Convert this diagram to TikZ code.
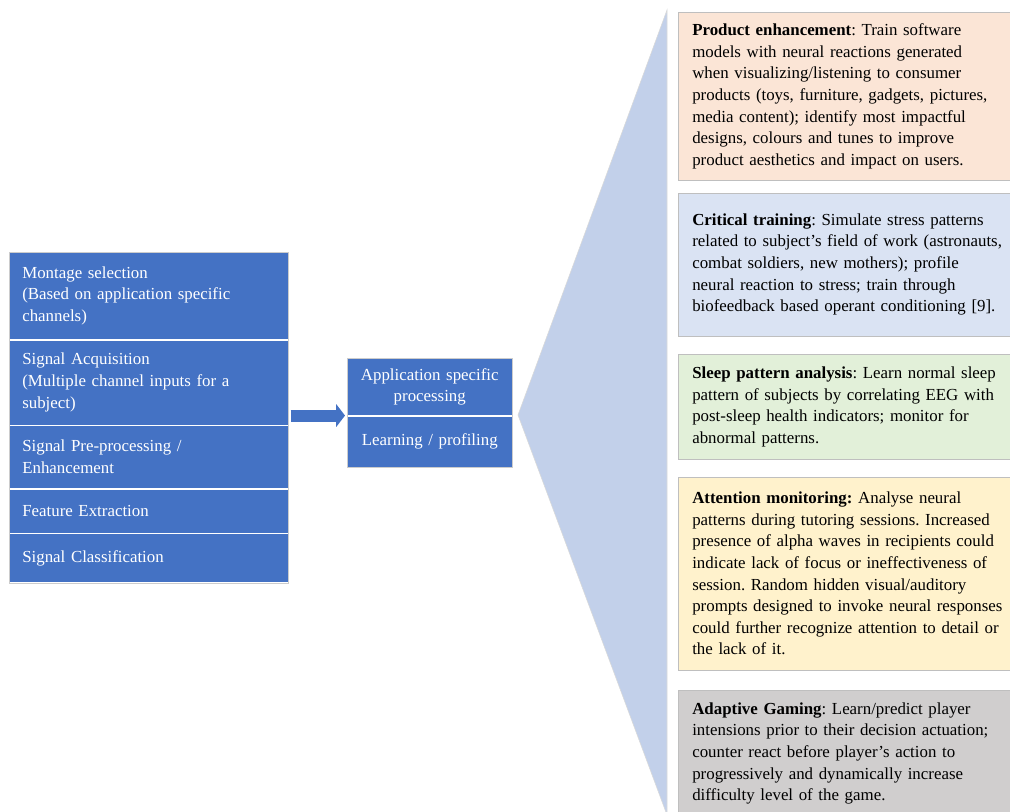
\documentclass[tikz,border=0pt]{standalone}
\usepackage{fontspec}
\setmainfont{Liberation Serif}
\usepackage{xcolor}
\usetikzlibrary{positioning,arrows.meta,backgrounds}
\definecolor{stackblue}{HTML}{4472C4}
\definecolor{wedgeblue}{HTML}{C2D0EA}
\definecolor{peach}{HTML}{FBE5D6}
\definecolor{paleblue}{HTML}{DAE3F3}
\definecolor{palegreen}{HTML}{E2F0D9}
\definecolor{paleyellow}{HTML}{FFF2CC}
\definecolor{palegrey}{HTML}{D0CECE}
\definecolor{edgegrey}{HTML}{BFBFBF}
\frenchspacing

\begin{document}
\begin{tikzpicture}[node distance=0cm, font=\fontsize{12pt}{15.4pt}\selectfont,
  stackcell/.style={draw=white,fill=stackblue,text=white,align=left,text width=6.325cm,inner xsep=0.325cm,inner ysep=0pt,minimum height=#1},
  midcell/.style={draw=white,fill=stackblue,text=white,align=center,text width=3.725cm,inner xsep=0.2cm,inner ysep=0pt,minimum height=#1},
  usebox/.style={draw=edgegrey,fill=#1,align=left,text width=8.6cm,inner xsep=0.35cm,inner ysep=0pt}]
\useasboundingbox (0,0) rectangle (25.25,-20.3);
% processing chain
\node[stackcell=2.175cm,anchor=north west] (mont) at (0.225,-6.3) {Montage selection\\(Based on application specific\\channels)};
\node[stackcell=2.125cm,below=of mont] (acq) {Signal Acquisition\\(Multiple channel inputs for a\\subject)};
\node[stackcell=1.575cm,below=of acq] (prep) {Signal Pre-processing /\\Enhancement};
\node[stackcell=1.1cm,below=of prep] (feat) {Feature Extraction};
\node[stackcell=1.225cm,below=of feat] (clas) {Signal Classification};
\draw[edgegrey!80] (mont.north west) rectangle (clas.south east);
% application block
\node[midcell=1.425cm,anchor=north west] (app) at (8.675,-8.95) {Application specific\\processing};
\node[midcell=1.275cm,below=of app] (learn) {Learning / profiling};
\draw[edgegrey!80] (app.north west) rectangle (learn.south east);
\draw[line width=0.3cm,stackblue,-{Triangle[length=0.22cm,width=0.56cm]},shorten <=0.05cm,shorten >=0.05cm] (app.south west -| acq.east) -- (app.south west);
% applications
\node[usebox=peach,minimum height=4.2cm,anchor=north west] (prod) at (16.95,-0.3) {\textbf{Product enhancement}: Train software\\models with neural reactions generated\\when visualizing/listening to consumer\\products (toys, furniture, gadgets, pictures,\\media content); identify most impactful\\designs, colours and tunes to improve\\product aesthetics and impact on users.};
\node[usebox=paleblue,minimum height=3.575cm,below=0.3cm of prod] (crit) {\textbf{Critical training}: Simulate stress patterns\\related to subject's field of work (astronauts,\\combat soldiers, new mothers); profile\\neural reaction to stress; train through\\biofeedback based operant conditioning [9].};
\node[usebox=palegreen,minimum height=2.625cm,below=0.45cm of crit] (sleep) {\textbf{Sleep pattern analysis}: Learn normal sleep\\pattern of subjects by correlating EEG with\\post-sleep health indicators; monitor for\\abnormal patterns.};
\node[usebox=paleyellow,minimum height=4.825cm,below=0.425cm of sleep] (attn) {\textbf{Attention monitoring:} Analyse neural\\patterns during tutoring sessions. Increased\\presence of alpha waves in recipients could\\indicate lack of focus or ineffectiveness of\\session. Random hidden visual/auditory\\prompts designed to invoke neural responses\\could further recognize attention to detail or\\the lack of it.};
\node[usebox=palegrey,minimum height=3.15cm,below=0.5cm of attn] (game) {\textbf{Adaptive Gaming}: Learn/predict player\\intensions prior to their decision actuation;\\counter react before player's action to\\progressively and dynamically increase\\difficulty level of the game.};
% callout wedge
\coordinate (tip) at (12.95,-10.375);
\coordinate (wtop) at (16.675,-0.25);
\coordinate (wbot) at (16.675,-20.375);
\begin{scope}[on background layer]
\fill[wedgeblue,draw=edgegrey!60] (tip) -- (wtop) -- (wbot) -- cycle;
\end{scope}
\end{tikzpicture}
\end{document}
